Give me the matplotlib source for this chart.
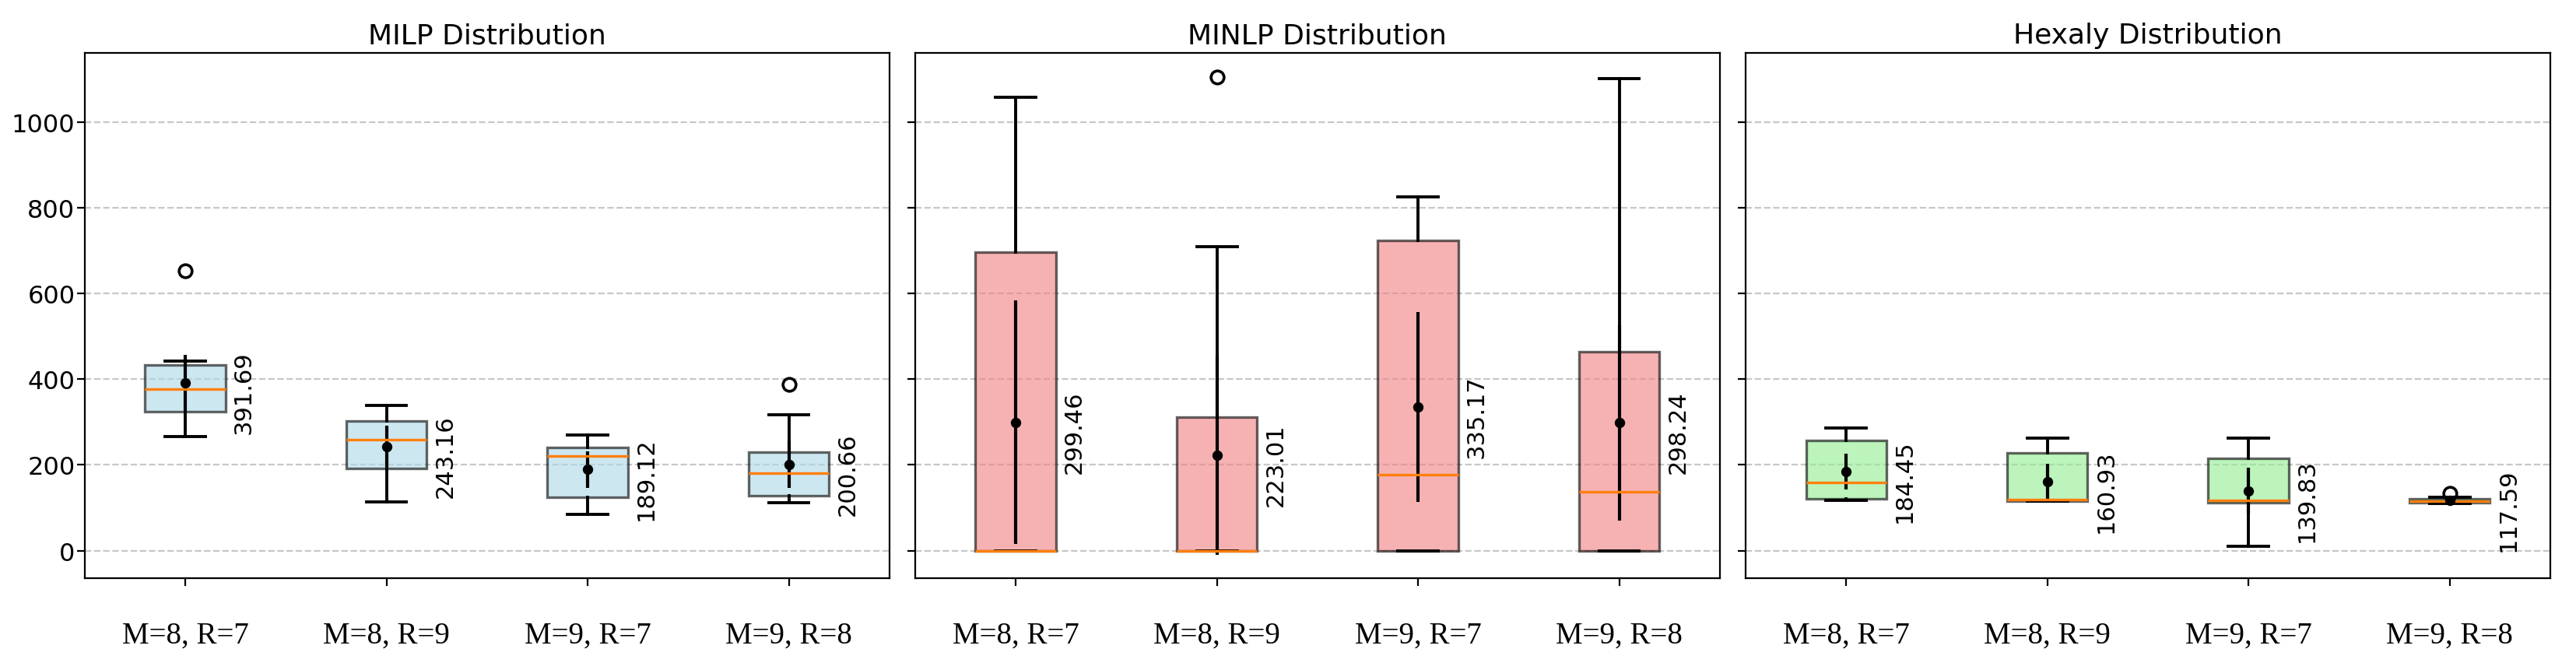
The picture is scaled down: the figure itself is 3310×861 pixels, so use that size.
import numpy as np
import matplotlib
matplotlib.use('Agg')
import matplotlib.pyplot as plt

configs = ['M=8, R=7', 'M=8, R=9', 'M=9, R=7', 'M=9, R=8']
solvers = ['MILP', 'MINLP', 'Hexaly']
fills = ['lightblue', 'lightcoral', 'lightgreen']

# box statistics (per solver, per config)
q1 = {'MILP':   [323.8, 192.0, 123.7, 127.3],
      'MINLP':  [0.0, 0.0, 0.0, 0.0],
      'Hexaly': [121.6, 114.7, 112.7, 112.3]}
med = {'MILP':   [377.0, 259.0, 221.0, 180.0],
       'MINLP':  [0.0, 0.0, 176.5, 136.6],
       'Hexaly': [158.5, 119.6, 117.6, 115.9]}
q3 = {'MILP':   [433.8, 302.6, 240.3, 230.0],
      'MINLP':  [697.0, 312.0, 724.8, 463.6],
      'Hexaly': [257.2, 227.3, 215.4, 120.6]}
whislo = {'MILP':   [266.4, 113.4, 85.0, 112.2],
          'MINLP':  [0.0, 0.0, 0.0, 0.0],
          'Hexaly': [117.6, 114.7, 11.0, 110.4]}
whishi = {'MILP':   [442.9, 339.0, 269.4, 317.0],
          'MINLP':  [1058.8, 708.9, 825.5, 1101.7],
          'Hexaly': [287.0, 263.0, 263.0, 124.2]}
fliers = {'MILP':   [[652.7], [], [], [388.5]],
          'MINLP':  [[], [1105.7], [], []],
          'Hexaly': [[], [], [], [132.8]]}
means = {'MILP':   [391.69, 243.16, 189.12, 200.66],
         'MINLP':  [299.46, 223.01, 335.17, 298.24],
         'Hexaly': [184.45, 160.93, 139.83, 117.59]}
stds = {'MILP':   [66.0, 48.6, 42.3, 54.0],
        'MINLP':  [284.0, 233.0, 221.5, 228.0],
        'Hexaly': [42.0, 42.0, 53.6, 9.0]}

fig, axes = plt.subplots(1, 3, figsize=(16.55, 4.31), dpi=200, sharey=True)
fig.subplots_adjust(left=0.0329, right=0.990, top=0.920, bottom=0.1365, wspace=0.032)

positions = np.arange(1, len(configs) + 1)

for ax, name, fc in zip(axes, solvers, fills):
    stats = []
    for i, lab in enumerate(configs):
        stats.append(dict(label=lab, q1=q1[name][i], med=med[name][i], q3=q3[name][i],
                          whislo=whislo[name][i], whishi=whishi[name][i],
                          fliers=fliers[name][i], mean=means[name][i]))
    ax.bxp(stats, positions=positions, widths=0.4, patch_artist=True,
           boxprops=dict(facecolor=fc, edgecolor='black', alpha=0.6, linewidth=1.2),
           whiskerprops=dict(linewidth=1.4),
           capprops=dict(linewidth=1.4),
           medianprops=dict(linewidth=1.2),
           flierprops=dict(markeredgewidth=1.3))

    # mean +/- std
    ax.errorbar(positions, means[name], yerr=stds[name], fmt='o', color='black',
                markersize=3.8, elinewidth=1.5, capsize=0)

    for p, m in zip(positions, means[name]):
        ax.text(p + 0.235, m - 21, f'{m:.2f}', rotation=90, ha='left', va='center',
                fontsize=11)

    ax.set_title(f'{name} Distribution', fontsize=13, pad=4.5)
    ax.grid(axis='y', linestyle='--', alpha=0.7)
    ax.set_xlim(0.5, 4.5)
    ax.set_xticks(positions)
    ax.set_xticklabels(configs, fontsize=14, fontfamily='Liberation Serif')
    ax.tick_params(axis='x', pad=16)
    ax.tick_params(axis='y', labelsize=11.5, pad=1)

axes[0].set_ylim(-65, 1162)

fig.savefig('out.png', dpi=200)
